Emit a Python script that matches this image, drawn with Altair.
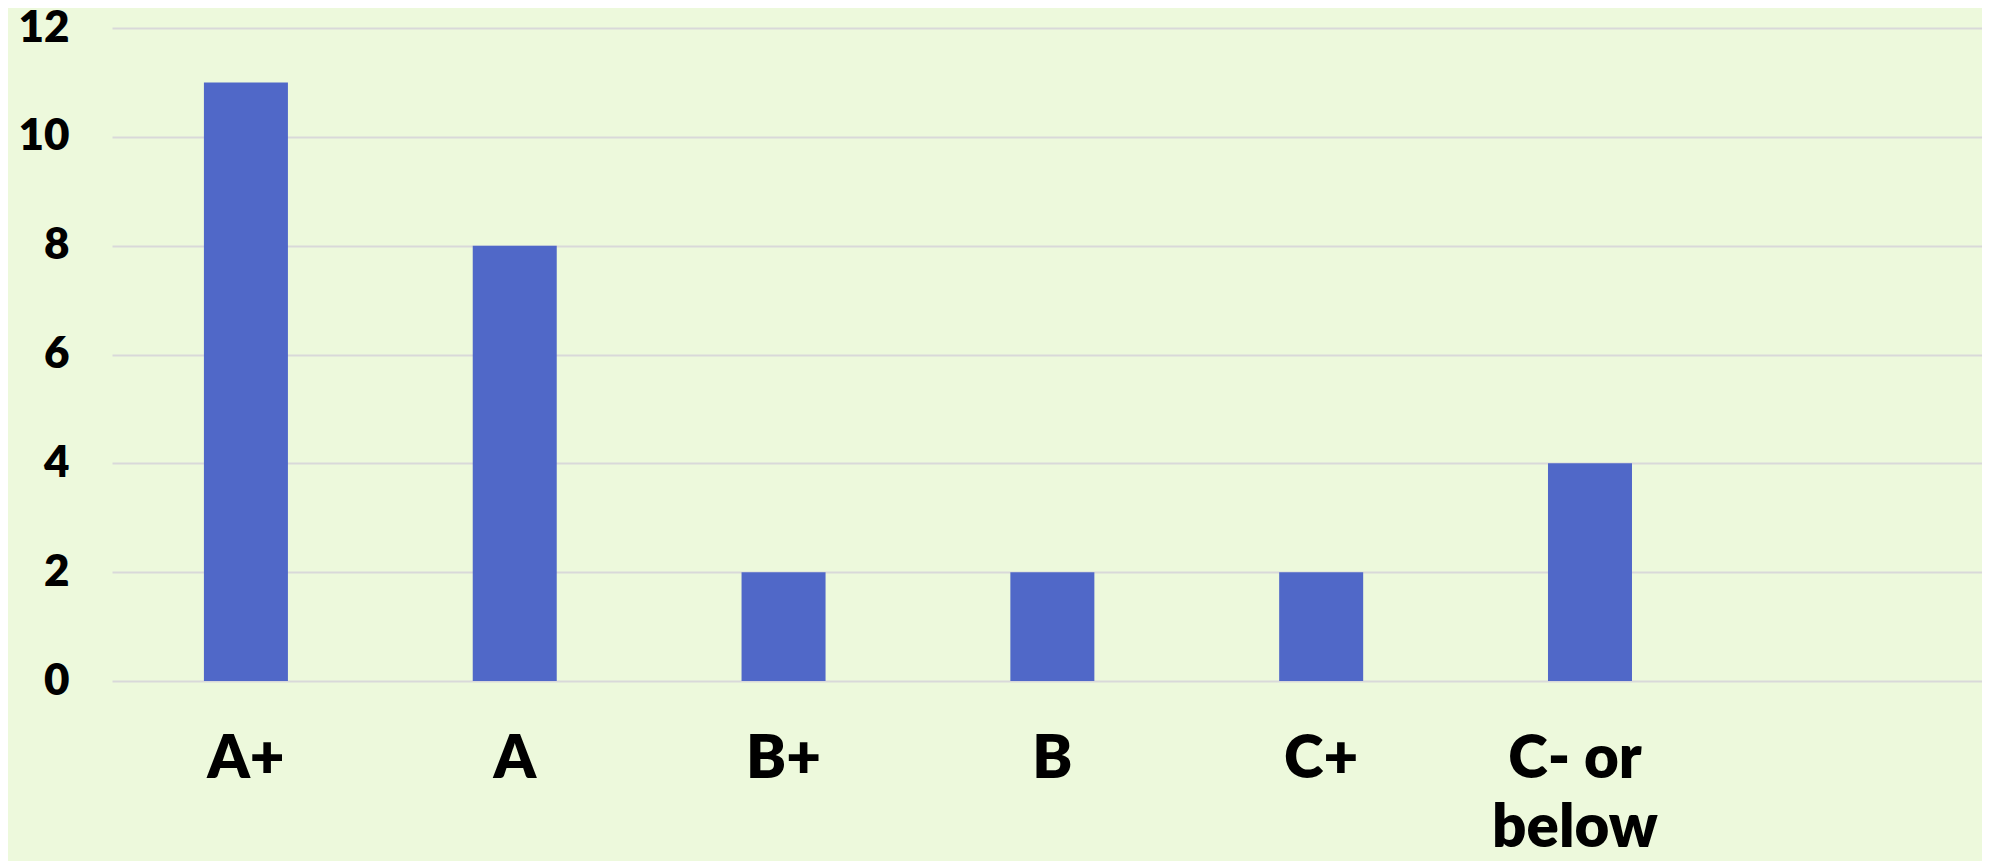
import altair as alt
import pandas as pd

grades = ["A+", "A", "B+", "B", "C+", "C- or below"]
counts = [11, 8, 2, 2, 2, 4]
y_ticks = [0, 2, 4, 6, 8, 10, 12]

df = pd.DataFrame({"grade": grades, "count": counts})

FONT = "Lato"

chart = (
    alt.Chart(df)
    .mark_bar(color="#5068C8")
    .encode(
        x=alt.X(
            "grade:N",
            sort=grades,
            title=None,
            scale=alt.Scale(paddingInner=0.6875, paddingOuter=0.822, align=0.208),
            axis=alt.Axis(
                labelAngle=0,
                labelFont=FONT,
                labelFontSize=60,
                labelFontWeight=800,
                labelColor="#000000",
                labelPadding=49,
                labelLineHeight=69,
                labelLimit=0,
                labelOffset={
                    "condition": {"test": "datum.label == 'C- or below'", "value": -15},
                    "value": 0,
                },
                labelExpr="datum.label == 'C- or below' ? ['C- or', 'below'] : datum.label",
                domain=False,
                ticks=False,
                grid=False,
            ),
        ),
        y=alt.Y(
            "count:Q",
            title=None,
            scale=alt.Scale(domain=[0, 12], nice=False),
            axis=alt.Axis(
                values=y_ticks,
                labelFont=FONT,
                labelFontSize=44,
                labelFontWeight=800,
                labelColor="#000000",
                labelPadding=43,
                domain=False,
                ticks=False,
                grid=True,
                gridColor="#d9d9d9",
                gridWidth=2,
            ),
        ),
    )
    .properties(
        width=1870,
        height=653,
        background="#EDF9DC",
        padding={"left": 104, "top": 20, "right": 0, "bottom": 180},
        autosize=alt.AutoSizeParams(type="none"),
    )
    .configure_view(stroke=None)
)

chart.save("out.html", embed_options={"renderer": "svg", "actions": False})
